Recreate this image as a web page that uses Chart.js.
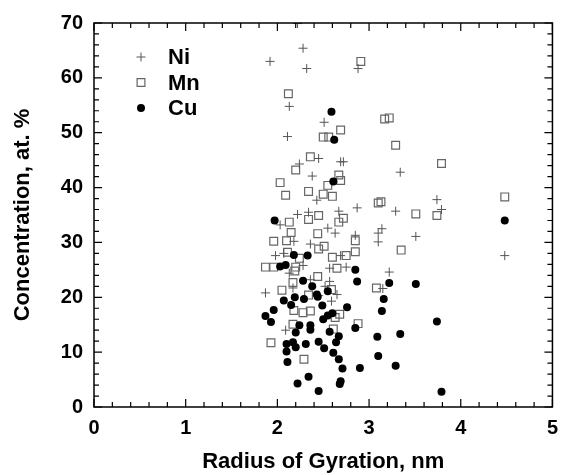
<!DOCTYPE html>
<html>
<head>
<meta charset="utf-8">
<script src="https://cdn.jsdelivr.net/npm/chart.js@4.4.0/dist/chart.umd.min.js"></script>
<style>
  html, body { margin: 0; padding: 0; background: #fff; }
  #wrap { width: 567px; height: 475px; position: relative; }
</style>
</head>
<body>
<div id="wrap"><canvas id="c"></canvas></div>
<script>
// 数据：回转半径 (nm) 与浓度 (at. %)
const niX = [1.92, 2.28, 2.32, 2.22, 2.88, 2.13, 2.11, 2.51, 2.24, 2.45, 2.69, 2.72, 2.38, 3.34, 2.43, 2.87,
  3.74, 3.79, 3.29, 2.22, 2.34, 2.67, 2.03, 2.55, 2.63, 3.14, 3.10, 2.85, 3.51, 3.10, 2.18, 2.36,
  1.98, 2.07, 2.69, 4.48, 2.28, 2.57, 2.75, 2.13, 3.22, 2.36, 2.57, 2.52, 2.17, 3.15, 1.87, 2.45,
  2.65, 2.59, 2.09];
const niY = [63.0, 65.4, 61.7, 69.9, 61.7, 54.8, 49.3, 51.9, 44.3, 45.3, 44.7, 44.7, 42.1, 42.8, 37.7, 36.3,
  37.8, 36.0, 35.7, 35.1, 35.5, 35.7, 33.2, 32.6, 31.7, 32.5, 31.7, 31.3, 31.1, 30.1, 30.2, 29.7,
  27.6, 28.0, 27.6, 27.6, 25.8, 25.3, 25.5, 24.4, 24.6, 23.2, 22.9, 22.0, 21.7, 21.6, 20.8, 20.3,
  20.5, 19.3, 14.0];

const mnX = [2.91, 2.12, 3.17, 3.22, 2.69, 2.50, 2.56, 3.29, 2.36, 3.79, 2.20, 2.03, 2.67, 2.69, 2.55, 2.09,
  2.34, 2.50, 2.60, 3.10, 3.13, 4.48, 3.51, 3.74, 2.45, 2.34, 2.13, 2.72, 2.67, 2.15, 2.44, 1.96,
  2.10, 2.85, 2.51, 2.45, 3.35, 2.11, 2.85, 2.75, 2.60, 2.24, 1.87, 1.96, 2.20, 2.65, 2.19, 2.44,
  2.17, 3.08, 2.05, 2.59, 2.34, 2.18, 2.28, 2.36, 2.63, 2.68, 2.17, 2.61, 2.88, 1.93, 2.29];
const mnY = [63.0, 57.1, 52.5, 52.7, 50.5, 49.2, 49.2, 47.7, 45.6, 44.4, 43.2, 40.9, 42.3, 41.3, 40.4, 38.6,
  39.3, 38.8, 38.4, 37.2, 37.4, 38.3, 35.2, 34.9, 34.9, 34.2, 33.7, 34.4, 33.7, 31.8, 31.6, 30.2,
  30.3, 30.3, 29.3, 28.8, 28.6, 28.2, 28.3, 27.6, 27.3, 27.1, 25.5, 25.5, 25.5, 25.3, 24.8, 23.8,
  22.7, 21.7, 21.3, 21.4, 20.4, 17.6, 17.2, 17.5, 16.3, 16.9, 15.1, 14.2, 15.2, 11.7, 8.7];

const cuX = [2.59, 2.62, 2.61, 1.97, 4.48, 2.18, 2.33, 2.03, 2.09, 2.85, 2.28, 2.87, 3.22, 3.51, 2.38, 2.55,
  2.07, 2.19, 2.29, 2.43, 2.44, 3.16, 2.15, 2.49, 2.76, 1.96, 3.14, 1.87, 2.55, 2.60, 2.50, 1.93,
  3.74, 2.24, 2.36, 2.36, 2.85, 2.20, 2.57, 3.34, 2.67, 3.09, 2.45, 2.10, 2.17, 2.64, 2.31, 2.20,
  2.10, 2.51, 2.61, 3.10, 2.67, 2.11, 3.29, 2.71, 2.90, 2.34, 2.22, 2.69, 2.68, 2.45, 3.79];
const cuY = [53.8, 48.7, 41.1, 34.0, 34.0, 27.7, 27.6, 25.6, 25.9, 25.0, 23.0, 22.9, 22.6, 22.4, 22.0, 21.1,
  19.4, 20.0, 19.7, 20.5, 20.1, 19.7, 18.6, 18.5, 18.2, 17.7, 17.5, 16.6, 16.7, 17.1, 16.0, 15.5,
  15.6, 14.9, 14.9, 14.1, 14.4, 13.6, 13.7, 13.3, 12.9, 12.8, 11.9, 11.5, 11.8, 11.8, 11.5, 10.9,
  10.1, 10.7, 9.9, 9.3, 8.7, 8.2, 7.5, 7.0, 7.1, 5.5, 4.3, 4.7, 4.2, 2.9, 2.8];

const xTicks = [0, 1, 2, 3, 4, 5];
const yTicks = [0, 10, 20, 30, 40, 50, 60, 70];

const FONT = '"Liberation Sans", Arial, sans-serif';

function pts(xs, ys) {
  return xs.map((x, i) => ({ x: x, y: ys[i] }));
}

// 边框 + 内向刻度
const frameTicksPlugin = {
  id: 'frameTicks',
  afterDatasetsDraw(chart) {
    const ctx = chart.ctx;
    const { top, bottom, left, right } = chart.chartArea;
    const xs = chart.scales.x, ys = chart.scales.y;
    ctx.save();
    ctx.strokeStyle = '#000';
    ctx.lineWidth = 1.2;
    ctx.beginPath();
    for (let i = 0; i <= 25; i++) {
      const v = i * 0.2;
      const len = (i % 5 === 0) ? 8 : 5;
      const px = xs.getPixelForValue(v);
      ctx.moveTo(px, bottom); ctx.lineTo(px, bottom - len);
      ctx.moveTo(px, top); ctx.lineTo(px, top + len);
    }
    for (let i = 0; i <= 35; i++) {
      const v = i * 2;
      const len = (i % 5 === 0) ? 8 : 5;
      const py = ys.getPixelForValue(v);
      ctx.moveTo(left, py); ctx.lineTo(left + len, py);
      ctx.moveTo(right, py); ctx.lineTo(right - len, py);
    }
    ctx.stroke();
    ctx.lineWidth = 1.5;
    ctx.strokeRect(left, top, right - left, bottom - top);
    ctx.restore();
  }
};

// 图例（左上角）
const legendPlugin = {
  id: 'cornerLegend',
  afterDraw(chart) {
    const ctx = chart.ctx;
    const left = chart.chartArea.left;
    const top = chart.chartArea.top;
    ctx.save();
    chart.data.datasets.forEach(function(d, i) {
      const cx = left + 47;
      const cy = top + 34 + i * 25.5;
      ctx.fillStyle = d.backgroundColor;
      ctx.strokeStyle = d.borderColor;
      ctx.lineWidth = d.borderWidth;
      Chart.helpers.drawPoint(ctx, {
        pointStyle: d.pointStyle,
        radius: d.pointRadius,
        borderWidth: d.borderWidth
      }, cx, cy);
      ctx.fillStyle = '#000';
      ctx.font = 'bold 22px ' + FONT;
      ctx.textBaseline = 'middle';
      ctx.textAlign = 'left';
      ctx.fillText(d.label, left + 74, cy + 1);
    });
    ctx.restore();
  }
};

new Chart(document.getElementById('c'), {
  type: 'scatter',
  data: {
    datasets: [
      {
        label: 'Ni',
        data: pts(niX, niY),
        pointStyle: 'cross',
        pointRadius: 4.5,
        borderWidth: 1,
        borderColor: '#555',
        backgroundColor: '#555',
        order: 1
      },
      {
        label: 'Mn',
        data: pts(mnX, mnY),
        pointStyle: 'rect',
        pointRadius: 5.5,
        borderWidth: 1.2,
        borderColor: '#666',
        backgroundColor: 'rgba(255,255,255,0)',
        order: 2
      },
      {
        label: 'Cu',
        data: pts(cuX, cuY),
        pointStyle: 'circle',
        pointRadius: 4,
        borderWidth: 0,
        borderColor: '#000',
        backgroundColor: '#000',
        order: 0
      }
    ]
  },
  plugins: [frameTicksPlugin, legendPlugin],
  options: {
    responsive: true,
    maintainAspectRatio: false,
    animation: false,
    layout: { padding: { top: 19, right: 13, left: 0, bottom: 0 } },
    plugins: {
      legend: { display: false },
      tooltip: { enabled: false }
    },
    scales: {
      x: {
        type: 'linear',
        min: 0, max: 5,
        afterFit: function(s) { s.height = 68; },
        afterBuildTicks: function(s) { s.ticks = xTicks.map(v => ({ value: v })); },
        grid: { display: false, drawTicks: false },
        border: { display: false },
        ticks: { color: '#000', padding: 9, font: { family: FONT, size: 20, weight: 'bold' } },
        title: {
          display: true,
          text: 'Radius of Gyration, nm',
          color: '#000',
          font: { family: FONT, size: 22, weight: 'bold' },
          padding: { top: 0, bottom: 0 }
        }
      },
      y: {
        type: 'linear',
        min: 0, max: 70,
        afterFit: function(s) { s.width = 94; },
        afterBuildTicks: function(s) { s.ticks = yTicks.map(v => ({ value: v })); },
        grid: { display: false, drawTicks: false },
        border: { display: false },
        ticks: { color: '#000', padding: 11, font: { family: FONT, size: 20, weight: 'bold' } },
        title: {
          display: true,
          text: 'Concentration, at. %',
          color: '#000',
          font: { family: FONT, size: 22, weight: 'bold' },
          padding: { top: 10, bottom: 0 }
        }
      }
    }
  }
});
</script>
</body>
</html>
